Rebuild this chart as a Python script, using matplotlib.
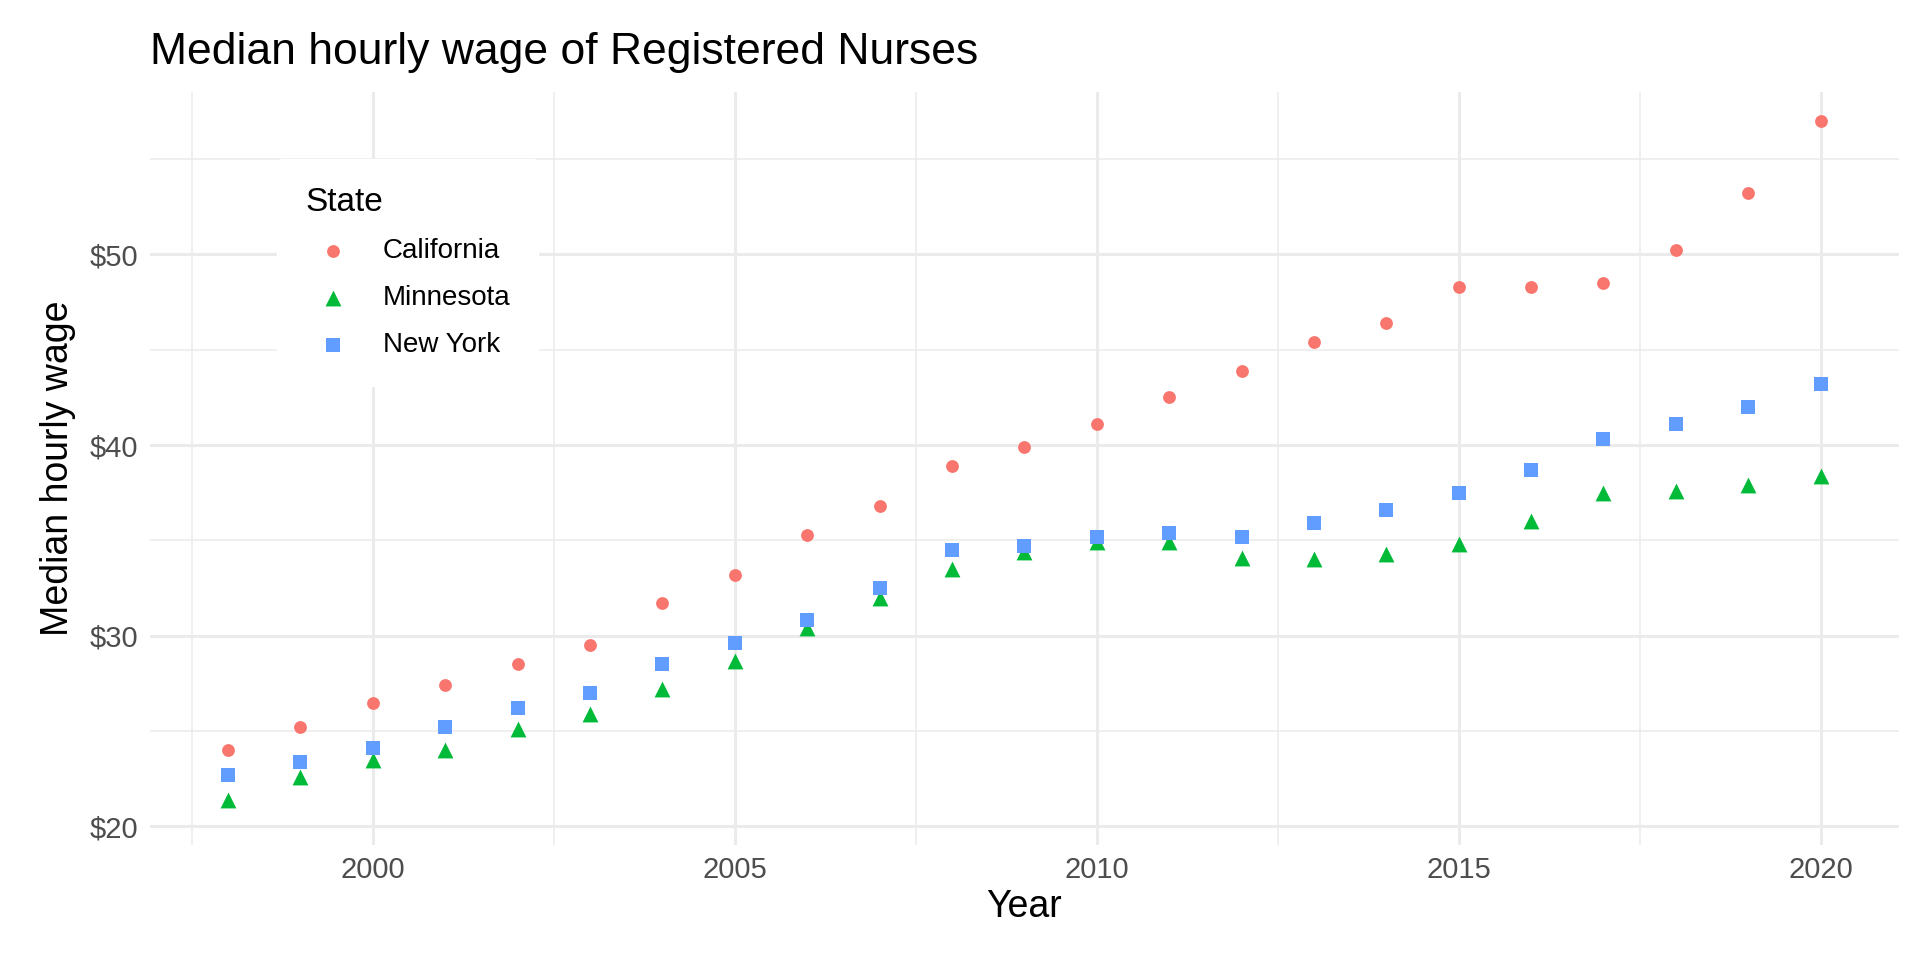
import numpy as np
from matplotlib import pyplot as plt

plt.rcParams['font.family'] = ['Liberation Sans', 'DejaVu Sans']

years = list(range(1998, 2021))
california = [24.0, 25.2, 26.5, 27.4, 28.5, 29.5, 31.7, 33.2, 35.3, 36.8, 38.9, 39.9,
              41.1, 42.5, 43.9, 45.4, 46.4, 48.3, 48.3, 48.5, 50.2, 53.2, 57.0]
minnesota = [21.4, 22.6, 23.5, 24.0, 25.1, 25.9, 27.2, 28.7, 30.4, 32.0, 33.5, 34.4,
             34.9, 34.9, 34.1, 34.0, 34.3, 34.8, 36.0, 37.5, 37.6, 37.9, 38.4]
new_york = [22.7, 23.4, 24.1, 25.2, 26.2, 27.0, 28.5, 29.6, 30.8, 32.5, 34.5, 34.7,
            35.2, 35.4, 35.2, 35.9, 36.6, 37.5, 38.7, 40.3, 41.1, 42.0, 43.2]

fig = plt.figure(figsize=(19.2, 9.6), dpi=100)
ax = fig.add_axes([0.078, 0.12, 0.911, 0.784])

ax.scatter(years, california, s=85, marker='o', color='#F8766D', label='California', zorder=3, linewidths=0)
ax.scatter(years, minnesota, s=130, marker='^', color='#00BA38', label='Minnesota', zorder=3, linewidths=0)
ax.scatter(years, new_york, s=95, marker='s', color='#619CFF', label='New York', zorder=3, linewidths=0)

ax.set_xlim(1996.92, 2021.08)
ax.set_ylim(19.04, 58.5)
ax.set_xticks([2000, 2005, 2010, 2015, 2020])
ax.set_xticks([1997.5, 2002.5, 2007.5, 2012.5, 2017.5], minor=True)
ax.set_yticks([20, 30, 40, 50])
ax.set_yticks([25, 35, 45, 55], minor=True)
ax.set_yticklabels(['$20', '$30', '$40', '$50'])
ax.grid(which='major', color='#EBEBEB', lw=2.2)
ax.grid(which='minor', color='#EBEBEB', lw=1.1)
ax.set_axisbelow(True)
for s in ax.spines.values():
    s.set_visible(False)
ax.tick_params(which='both', length=0, labelsize=21, colors='#4D4D4D', pad=8)

ax.set_xlabel('Year', fontsize=27, labelpad=4)
ax.set_ylabel('Median hourly wage', fontsize=27, labelpad=10)
ax.set_title('Median hourly wage of Registered Nurses', fontsize=32, loc='left', x=-0.0, pad=20)

leg = ax.legend(title='State', loc='upper left', bbox_to_anchor=(0.065, 0.93), fontsize=20,
                title_fontsize=24, frameon=True, facecolor='white', edgecolor='white',
                framealpha=1, labelspacing=0.75, borderpad=1.0, handletextpad=0.8)
leg._legend_box.align = 'left'

fig.savefig('out.png', dpi=100)
